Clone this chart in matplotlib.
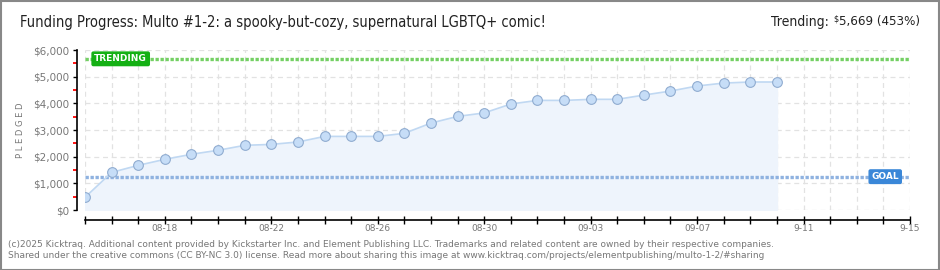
import datetime as dt
import numpy as np
import matplotlib
matplotlib.use("Agg")
from matplotlib import pyplot as plt
import matplotlib.dates as mdates
from matplotlib.patches import Rectangle

# Data
start_day = dt.date(2025, 8, 15)
pledged = [475, 1410, 1675, 1900, 2090, 2240, 2425, 2460, 2550,
           2760, 2760, 2760, 2875, 3260, 3510, 3640, 3975, 4110,
           4110, 4150, 4150, 4310, 4460, 4650, 4760, 4800, 4800]
days = [start_day + dt.timedelta(days=i) for i in range(len(pledged))]
goal = 1250
trending = 5669
x_start = dt.date(2025, 8, 15)
x_end = dt.date(2025, 9, 15)
tick_labels = {dt.date(2025, 8, 18): "08-18", dt.date(2025, 8, 22): "08-22",
               dt.date(2025, 8, 26): "08-26", dt.date(2025, 8, 30): "08-30",
               dt.date(2025, 9, 3): "09-03", dt.date(2025, 9, 7): "09-07",
               dt.date(2025, 9, 11): "9-11", dt.date(2025, 9, 15): "9-15"}

title = "Funding Progress: Multo #1-2: a spooky-but-cozy, supernatural LGBTQ+ comic!"
footer = ("(c)2025 Kicktraq. Additional content provided by Kickstarter Inc. and Element "
          "Publishing LLC. Trademarks and related content are owned by their respective companies.\n"
          "Shared under the creative commons (CC BY-NC 3.0) license. Read more about sharing "
          "this image at www.kicktraq.com/projects/elementpublishing/multo-1-2/#sharing")

W, H = 940, 270
fig = plt.figure(figsize=(W / 100, H / 100), dpi=100)
fig.patch.set_facecolor("white")
fig.add_artist(Rectangle((0.5 / W, 0.5 / H), 1 - 1.5 / W, 1 - 1.5 / H,
                         transform=fig.transFigure, fill=False,
                         edgecolor="#888888", linewidth=1.5))

ax = fig.add_axes([85 / W, (H - 210) / H, 825 / W, 160 / H])
ax.set_facecolor("white")

x_num = mdates.date2num(days)
ax.fill_between(x_num, pledged, 0, color="#eef4fc", zorder=1)
ax.plot(x_num, pledged, color="#c0d8f2", linewidth=1.2, zorder=3)
ax.plot(x_num, pledged, "o", markersize=7, markerfacecolor="#c6ddf7",
        markeredgecolor="#90acd0", markeredgewidth=0.8, zorder=4)

# trending and goal lines
ax.axhline(trending, color="#74d064", linewidth=2.4, linestyle=(0, (1, 0.5)), zorder=2)
ax.axhline(goal, color="#8fb2e0", linewidth=2.4, linestyle=(0, (1, 0.5)), zorder=2)

ax.text(mdates.date2num(x_start) + 0.35, trending, "TRENDING", color="white",
        fontsize=6.5, fontweight="bold", va="center", ha="left", zorder=6,
        bbox=dict(boxstyle="round,pad=0.25,rounding_size=0.15",
                  facecolor="#14b014", edgecolor="#14b014"))
ax.text(mdates.date2num(x_end) - 1.45, goal, "GOAL", color="white",
        fontsize=6.5, fontweight="bold", va="center", ha="left", zorder=6,
        bbox=dict(boxstyle="round,pad=0.25,rounding_size=0.15",
                  facecolor="#3a87d8", edgecolor="#3a87d8"))

ax.set_xlim(mdates.date2num(x_start), mdates.date2num(x_end))
ax.set_ylim(0, 6000)

# grid
ax.xaxis.set_major_locator(mdates.DayLocator())
ax.yaxis.set_major_locator(plt.MultipleLocator(1000))
ax.yaxis.set_minor_locator(plt.MultipleLocator(500))
ax.grid(True, which="major", color="#e2e2e2", linestyle=(0, (4, 3)), linewidth=0.9)
ax.set_axisbelow(True)

ax.set_xticklabels([tick_labels.get(mdates.num2date(t).date(), "")
                    for t in ax.get_xticks()])
ax.set_yticklabels(["$" + format(int(v), ",") for v in ax.get_yticks()])

for side in ["top", "right"]:
    ax.spines[side].set_visible(False)
ax.spines["left"].set_position(("outward", 6))
ax.spines["bottom"].set_position(("outward", 7))
ax.spines["left"].set_bounds(0, 6000)
ax.spines["left"].set_linewidth(1.2)
ax.spines["bottom"].set_linewidth(1.2)

ax.tick_params(axis="y", which="major", direction="out", length=3, width=1,
               color="black", labelsize=7.5, labelcolor="#777777", pad=2)
ax.tick_params(axis="y", which="minor", direction="out", length=3, width=1.3,
               color="#ff0000")
ax.tick_params(axis="x", which="major", direction="inout", length=6, width=1,
               color="black", labelsize=6.5, labelcolor="#777777", pad=0)

ax.set_ylabel("P L E D G E D", fontsize=6, color="#777777", labelpad=6)

fig.text(20 / W, 1 - 22 / H, title, fontsize=10.5, color="#222222",
         fontstretch="condensed", va="center", ha="left")

# right-hand header: "Trending:  $5,669 (453%)" with a small raised dollar sign
renderer = fig.canvas.get_renderer()
t_amount = fig.text(920 / W, 1 - 22 / H, "5,669 (453%)", fontsize=9.5,
                    color="#222222", fontstretch="condensed", va="center", ha="right")
amount_left = t_amount.get_window_extent(renderer).x0
t_dollar = fig.text(amount_left / W, 1 - 19 / H, "$", fontsize=6.5, color="#222222",
                    fontstretch="condensed", va="center", ha="right")
dollar_left = t_dollar.get_window_extent(renderer).x0
fig.text((dollar_left - 5) / W, 1 - 22 / H, "Trending:", fontsize=10,
         color="#222222", fontstretch="condensed", va="center", ha="right")

fig.text(8 / W, 1 - 250 / H, footer, fontsize=6.5, color="#777777",
         va="center", ha="left", linespacing=1.4)

fig.savefig("out.png", dpi=100)
